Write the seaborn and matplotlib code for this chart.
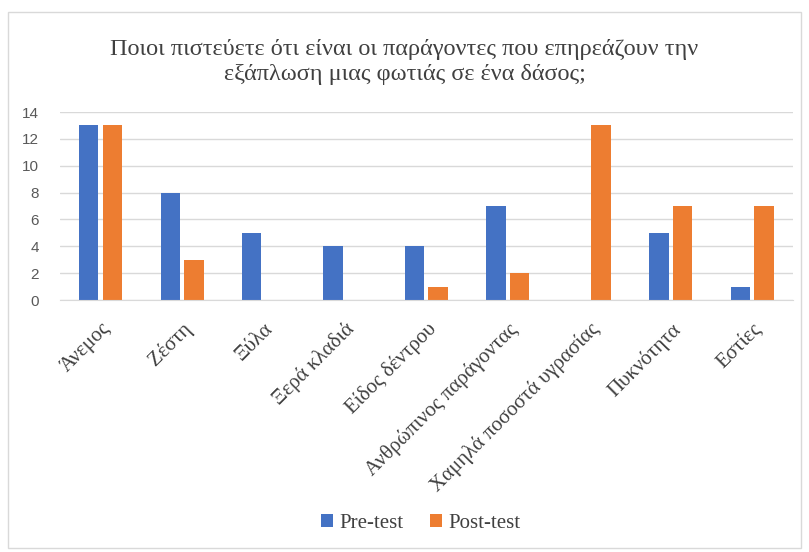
import pandas as pd
import seaborn as sns
import matplotlib.pyplot as plt
from matplotlib.patches import Rectangle

# Data
categories = ['Άνεμος', 'Ζέστη', 'Ξύλα', 'Ξερά κλαδιά', 'Είδος δέντρου',
              'Ανθρώπινος παράγοντας', 'Χαμηλά ποσοστά υγρασίας', 'Πυκνότητα', 'Εστίες']
pre_test = [13, 8, 5, 4, 4, 7, 0, 5, 1]
post_test = [13, 3, 0, 0, 1, 2, 13, 7, 7]
series_names = ['Pre-test', 'Post-test']

df = pd.DataFrame({
    'Factor': categories * 2,
    'Count': pre_test + post_test,
    'Test': [series_names[0]] * len(categories) + [series_names[1]] * len(categories),
})

sns.set_style('white')
plt.rcParams['font.family'] = ['Liberation Serif', 'DejaVu Serif']

fig = plt.figure(figsize=(8.09, 5.52), dpi=100)
ax = fig.add_axes([0.074, 0.4565, 0.906, 0.3405])

sns.barplot(data=df, x='Factor', y='Count', hue='Test', order=categories,
            hue_order=series_names, palette=['#4472C4', '#ED7D31'],
            width=0.58, gap=0.18, saturation=1, linewidth=0, ax=ax)

ax.set_xlim(-0.5, len(categories) - 0.5)
ax.set_ylim(0, 14)
ax.set_yticks(range(0, 15, 2))
ax.yaxis.grid(True, color='#D9D9D9', linewidth=1)
ax.set_axisbelow(True)
for side in ['top', 'right', 'left']:
    ax.spines[side].set_visible(False)
ax.spines['bottom'].set_color('#D9D9D9')
ax.set_xlabel('')
ax.set_ylabel('')
ax.tick_params(axis='both', length=0)
ax.tick_params(axis='y', pad=15)
for lab in ax.get_yticklabels():
    lab.set_family('Liberation Sans')
    lab.set_fontsize(11)
    lab.set_color('#595959')
ax.set_xticks(range(len(categories)))
ax.set_xticklabels(categories, rotation=45, ha='right', rotation_mode='anchor',
                   fontsize=15, color='#404040')
ax.tick_params(axis='x', pad=14)

fig.suptitle('Ποιοι πιστεύετε ότι είναι οι παράγοντες που επηρεάζουν την\n'
             'εξάπλωση μιας φωτιάς σε ένα δάσος;',
             x=0.5, y=0.93, fontsize=17.5, color='#404040', linespacing=1.25)

ax.legend_.remove()
handles, labels = ax.get_legend_handles_labels()
fig.legend(handles, labels, loc='center', bbox_to_anchor=(0.52, 0.052), ncol=2,
           frameon=False, handlelength=0.55, handleheight=0.55, handletextpad=0.3,
           columnspacing=1.3, prop={'family': 'Liberation Serif', 'size': 15},
           labelcolor='#404040')

fig.patches.append(Rectangle((0.010, 0.007), 0.980, 0.972, transform=fig.transFigure,
                             fill=False, edgecolor='#D9D9D9', linewidth=1))

plt.savefig('out.png', dpi=100)
